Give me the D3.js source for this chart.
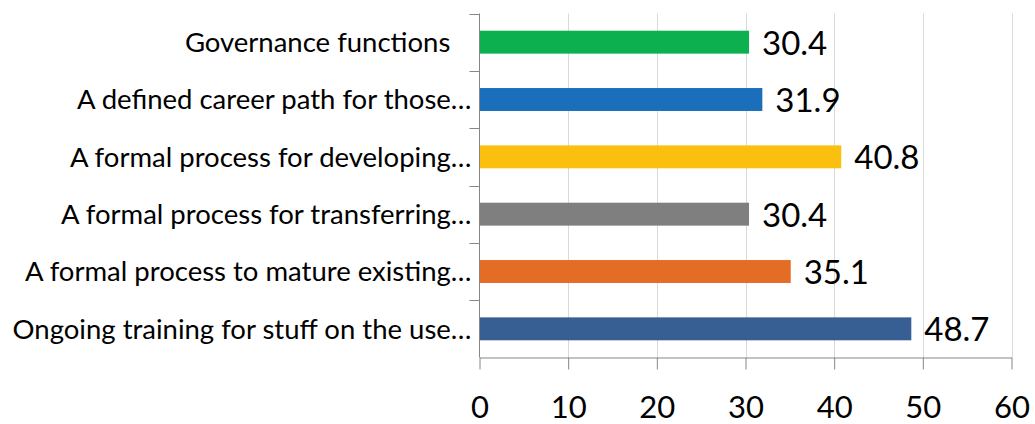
<!DOCTYPE html>
<html>
<head>
<meta charset="utf-8">
<script src="https://cdn.jsdelivr.net/npm/d3@7"></script>
<style>
  body { margin: 0; background: #fff; }
  svg { display: block; font-family: Lato, "Open Sans", sans-serif; }
</style>
</head>
<body>
<svg id="chart" width="1035" height="424"></svg>
<script>
// categories top to bottom, as shown (first one has trailing spaces in the source)
const categories = [
    "Governance functions\u00a0\u00a0\u00a0",
    "A defined career path for those\u2026",
    "A formal process for developing\u2026",
    "A formal process for transferring\u2026",
    "A formal process to mature existing\u2026",
    "Ongoing training for stuff on the use\u2026"
];
const values = [30.4, 31.9, 40.8, 30.4, 35.1, 48.7];
const colors = ["#0cb04f", "#1b6fba", "#fbbf10", "#7f7f7f", "#e46c25", "#375f93"];
const xTicks = [0, 10, 20, 30, 40, 50, 60];

const svg = d3.select('#chart');
const plotLeft = 479.5, plotRight = 1011.5, plotTop = 13.5, plotBottom = 357.5;

const x = d3.scaleLinear().domain([0, 60]).range([plotLeft, plotRight]);
const y = d3.scaleBand().domain(categories).range([plotTop, plotBottom]).paddingInner(0.6).paddingOuter(0.3);
const yb = d3.scaleBand().domain(categories).range([plotTop, plotBottom]);

// gridlines
svg.append('g')
    .selectAll('line')
    .data(xTicks.slice(1))
    .join('line')
    .attr('x1', d => Math.round(x(d)) + 0.5)
    .attr('x2', d => Math.round(x(d)) + 0.5)
    .attr('y1', plotTop)
    .attr('y2', plotBottom)
    .attr('stroke', '#d9d9d9')
    .attr('stroke-width', 1);

// bars
svg.append('g')
    .selectAll('rect')
    .data(values)
    .join('rect')
    .attr('x', x(0))
    .attr('y', (d, i) => y(categories[i]))
    .attr('width', d => x(d) - x(0))
    .attr('height', y.bandwidth())
    .attr('fill', (d, i) => colors[i]);

// value labels
svg.append('g')
    .selectAll('text')
    .data(values)
    .join('text')
    .attr('x', d => x(d) + 13)
    .attr('y', (d, i) => y(categories[i]) + y.bandwidth() / 2)
    .attr('dy', '0.38em')
    .attr('font-size', 33)
    .attr('fill', '#000')
    .text(d => d.toFixed(1));

// x axis
const xAxis = svg.append('g')
    .attr('transform', `translate(0, ${plotBottom})`)
    .call(d3.axisBottom(x).tickValues(xTicks).tickSize(12).tickSizeOuter(0).tickPadding(26));
xAxis.select('.domain').attr('stroke', '#868686');
xAxis.selectAll('.tick line').attr('stroke', '#868686');
xAxis.selectAll('.tick text')
    .attr('font-size', 31)
    .attr('font-family', 'Lato, sans-serif')
    .attr('fill', '#000');

// y axis (ticks at band boundaries)
svg.append('line')
    .attr('x1', plotLeft).attr('x2', plotLeft)
    .attr('y1', plotTop).attr('y2', plotBottom)
    .attr('stroke', '#868686');
svg.append('g')
    .selectAll('line')
    .data(categories)
    .join('line')
    .attr('x1', plotLeft - 10)
    .attr('x2', plotLeft)
    .attr('y1', d => Math.round(yb(d)) + 0.5)
    .attr('y2', d => Math.round(yb(d)) + 0.5)
    .attr('stroke', '#868686');

svg.append('g')
    .selectAll('text')
    .data(categories)
    .join('text')
    .attr('x', plotLeft - 8)
    .attr('y', d => yb(d) + yb.bandwidth() / 2)
    .attr('dy', '0.36em')
    .attr('text-anchor', 'end')
    .attr('font-size', 27.5)
    .attr('fill', '#000')
    .text(d => d);
</script>
</body>
</html>
